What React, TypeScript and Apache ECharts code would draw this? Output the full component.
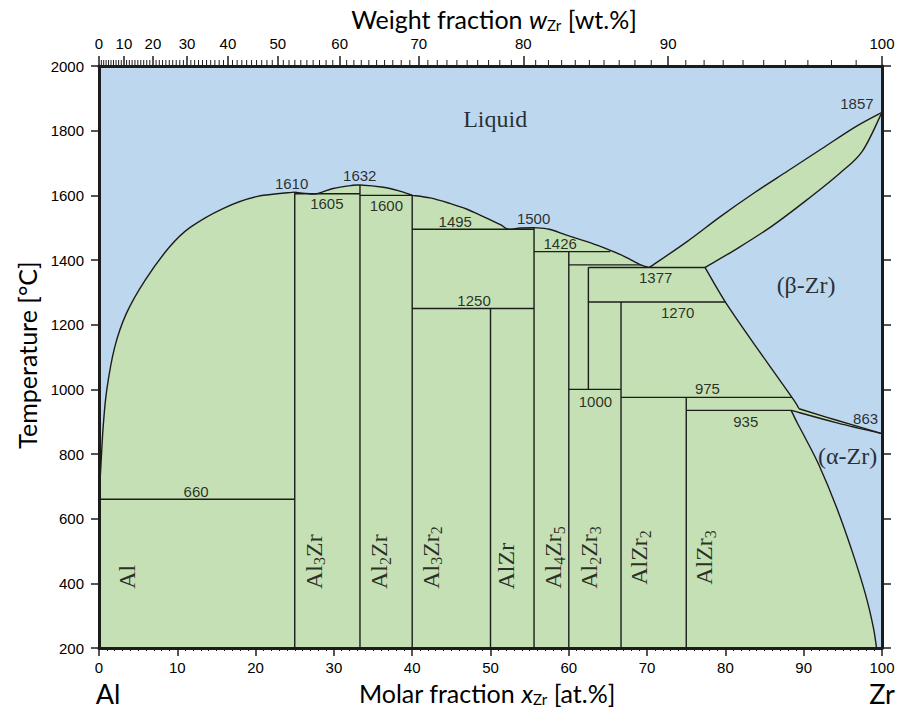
import { useEffect, useRef } from "react";
import * as echarts from "echarts";

const BLUE = "#BDD7EE";
const GREEN = "#C5E0B4";
const INK = "#1c1c1c";
const SANS = "'Liberation Sans', Arial, sans-serif";
const SERIF = "'Liberation Serif', 'Times New Roman', serif";
const TITLE = "Lato, 'Open Sans', sans-serif";

// Molar masses used for the weight-fraction scale on the top axis
const M_AL = 26.9815;
const M_ZR = 91.224;

// Tick labels of the weight-fraction axis [wt.%]
const weightLabels = [0, 10, 20, 30, 40, 50, 60, 70, 80, 90, 100];

// Liquidus, Al side: x [at.% Zr], T [°C]
const liquidusAl = [
  [0, 660], [0.1, 705], [0.2, 745], [0.3, 790], [0.55, 890], [1.0, 1000],
  [2.0, 1130], [3.5, 1235], [5.9, 1338], [9.0, 1440], [11.6, 1500],
  [15.9, 1560], [20.1, 1596], [25, 1610],
];
// Liquidus between Al3Zr and Al3Zr2
const liquidusMid = [
  [25, 1610], [26.5, 1606], [27.8, 1605], [29.9, 1621], [32.1, 1630],
  [33.33, 1632], [36.3, 1625], [38.4, 1613], [40, 1600],
];
// Liquidus between Al3Zr2 and Al4Zr5
const liquidusHigh = [
  [40, 1600], [42.3, 1592], [44.8, 1575], [47.0, 1557], [49.1, 1534],
  [51.2, 1510], [52.3, 1495], [53.8, 1499], [55.56, 1500],
];
// Liquidus down to the eutectic at 1377 °C
const liquidusZr = [
  [55.56, 1500], [57.5, 1495], [59.7, 1477], [61.9, 1460], [63.6, 1446],
  [65.3, 1430], [67.2, 1410], [69.2, 1385], [70.3, 1377],
];
// Liquidus and solidus of (β-Zr)
const betaLiquidus = [
  [70.3, 1377], [75.1, 1457], [79.4, 1535], [83.7, 1608],
  [88.0, 1676], [92.3, 1744], [96.6, 1812], [100, 1857],
];
const betaSolidus = [
  [77.4, 1377], [81.6, 1437], [85.9, 1504], [90.2, 1582],
  [94.5, 1666], [97.5, 1737], [100, 1857],
];
// Solvus of (β-Zr)
const betaSolvus = [
  [77.4, 1377], [80, 1270], [84.2, 1122], [88.5, 975], [89.4, 940],
];
// (α-Zr) + (β-Zr) transus lines
const betaTransus = [[89.4, 940], [94, 906], [100, 863]];
const alphaTransus = [[88.4, 935], [94, 898], [100, 863]];
// Solvus of (α-Zr)
const alphaSolvus = [
  [88.4, 935], [89.2, 895], [90.3, 845], [92.0, 763], [94.1, 641],
  [96.2, 498], [97.9, 365], [98.9, 263], [99.3, 200],
];

// Invariant lines: T [°C], from x, to x [at.% Zr]
const isotherms = [
  [660, 0, 25],
  [1605, 25, 33.33],
  [1600, 33.33, 40],
  [1495, 40, 55.56],
  [1250, 40, 55.56],
  [1426, 55.56, 65.3],
  [1385, 60, 69.2],
  [1377, 62.5, 77.4],
  [1270, 62.5, 80],
  [1000, 60, 66.67],
  [975, 66.67, 88.5],
  [935, 75, 88.4],
];

// Intermetallic compounds: x [at.% Zr], lowest T, highest T
const compounds = [
  [25, 200, 1610],
  [33.33, 200, 1632],
  [40, 200, 1600],
  [50, 200, 1250],
  [55.56, 200, 1500],
  [60, 200, 1426],
  [62.5, 1000, 1377],
  [66.67, 200, 1270],
  [75, 200, 975],
];

// Temperature annotations: value [°C], x along the line, vertical nudge [px]
const tempNotes = [
  [1857, 96.8, -9],
  [1610, 24.6, -9],
  [1632, 33.3, -9],
  [1605, 29.1, 10],
  [1600, 36.7, 10],
  [1495, 45.5, -8],
  [1500, 55.5, -9],
  [1426, 58.9, -8],
  [1377, 71.1, 10],
  [1270, 73.9, 10],
  [1250, 47.9, -8],
  [1000, 63.4, 12],
  [975, 77.7, -9],
  [935, 82.6, 11],
  [863, 97.9, -15],
  [660, 12.4, -8],
];

// Phase-field names (rotated): text, x, T
const phaseNames = [
  ["Al", 3.6, 420],
  ["Al{s|3}Zr", 27.4, 467],
  ["Al{s|2}Zr", 35.8, 467],
  ["Al{s|3}Zr{s|2}", 42.4, 480],
  ["AlZr", 52.0, 453],
  ["Al{s|4}Zr{s|5}", 58.0, 480],
  ["Al{s|2}Zr{s|3}", 62.6, 480],
  ["AlZr{s|2}", 69.0, 480],
  ["AlZr{s|3}", 77.3, 480],
];

// Single-phase regions: text, x, T
const regionNames = [
  ["Liquid", 50.6, 1836],
  ["(β-Zr)", 90.3, 1323],
  ["(α-Zr)", 95.6, 794],
];

const toAtomic = (w: number) =>
  ((w / M_ZR) / (w / M_ZR + (100 - w) / M_AL)) * 100;
const toWeight = (x: number) =>
  ((x * M_ZR) / (x * M_ZR + (100 - x) * M_AL)) * 100;

const weightMajorAt = weightLabels.map(toAtomic);
const weightMinorAt: number[] = [];
for (let w = 1; w < 100; w++) if (w % 10 !== 0) weightMinorAt.push(toAtomic(w));

const segments = [
  ...isotherms.map(([t, x0, x1]) => [x0, t, x1, t]),
  ...compounds.map(([x, t0, t1]) => [x, t0, x, t1]),
];

const curves = [
  liquidusAl, liquidusMid, liquidusHigh, liquidusZr,
  betaLiquidus, betaSolidus, betaSolvus, betaTransus, alphaTransus, alphaSolvus,
];

// Boundary of the two-phase fields, as [curve, reversed?]
const outlineParts: [number[][], boolean][] = [
  [liquidusAl, false],
  [liquidusMid, false],
  [liquidusHigh, false],
  [liquidusZr, false],
  [betaLiquidus, false],
  [betaSolidus, true],
  [betaSolvus, false],
  [betaTransus, false],
  [alphaTransus, true],
  [alphaSolvus, false],
];

const f = (n: number) => n.toFixed(2);

// Catmull-Rom curve through pixel points, as SVG path commands
function smoothPath(pts: number[][], first: "M" | "L") {
  let d = `${first}${f(pts[0][0])},${f(pts[0][1])}`;
  for (let i = 0; i < pts.length - 1; i++) {
    const p0 = pts[i - 1] || pts[i];
    const p1 = pts[i];
    const p2 = pts[i + 1];
    const p3 = pts[i + 2] || p2;
    const c1x = p1[0] + (p2[0] - p0[0]) / 6;
    const c1y = p1[1] + (p2[1] - p0[1]) / 6;
    const c2x = p2[0] - (p3[0] - p1[0]) / 6;
    const c2y = p2[1] - (p3[1] - p1[1]) / 6;
    d += ` C${f(c1x)},${f(c1y)} ${f(c2x)},${f(c2y)} ${f(p2[0])},${f(p2[1])}`;
  }
  return d;
}

export default function App() {
  const ref = useRef<HTMLDivElement>(null);

  useEffect(() => {
    if (!ref.current) return;
    const chart = echarts.init(ref.current, null, { renderer: "svg" });

    const axisLine = { onZero: false, lineStyle: { color: INK, width: 3 } };
    const tickStyle = { color: INK, width: 1.5 };
    const labelStyle = { color: "#000", fontFamily: SANS, fontSize: 15 };
    const titleRich = {
      n: { fontFamily: TITLE, fontSize: 25, lineHeight: 26, fill: "#000" },
      i: { fontFamily: TITLE, fontSize: 25, lineHeight: 26, fontStyle: "italic", fill: "#000" },
      s: { fontFamily: TITLE, fontSize: 15, lineHeight: 14, fill: "#000", verticalAlign: "bottom" },
    };

    const option: any = {
      animation: false,
      grid: {
        left: 99, right: 16, top: 66, bottom: 62,
        show: true, backgroundColor: BLUE, borderWidth: 0,
      },
      xAxis: [
        {
          type: "value", position: "bottom", min: 0, max: 100, interval: 10, z: 10,
          axisLine,
          axisTick: { length: 8, lineStyle: tickStyle },
          minorTick: { show: true, splitNumber: 10, length: 3, lineStyle: { color: INK, width: 1 } },
          axisLabel: { ...labelStyle, margin: 12 },
          splitLine: { show: false },
          minorSplitLine: { show: false },
        },
        {
          type: "value", position: "top", min: 0, max: 100, z: 10,
          axisLine,
          axisTick: { customValues: weightMajorAt, length: 10, lineStyle: tickStyle },
          axisLabel: {
            ...labelStyle, margin: 15, customValues: weightMajorAt,
            formatter: (v: number) => String(Math.round(toWeight(v))),
          },
          splitLine: { show: false },
        },
      ],
      yAxis: [
        {
          type: "value", position: "left", min: 200, max: 2000, interval: 200, z: 10,
          axisLine,
          axisTick: { length: 8, lineStyle: tickStyle },
          axisLabel: { ...labelStyle, margin: 15, formatter: (v: number) => String(v) },
          splitLine: { show: false },
        },
        {
          type: "value", position: "right", min: 200, max: 2000, interval: 200, z: 10,
          axisLine,
          axisTick: { length: 9, lineStyle: tickStyle },
          axisLabel: { show: false },
          splitLine: { show: false },
        },
      ],
      series: [
        {
          type: "custom", name: "two-phase fields", z: 1, silent: true,
          data: [[0, 200]],
          renderItem: (_p: any, api: any) => {
            const px = (pts: number[][]) => pts.map((p) => api.coord(p));
            const start = api.coord([0, 200]);
            let d = `M${f(start[0])},${f(start[1])}`;
            outlineParts.forEach(([c, rev]) => {
              const pts = px(rev ? [...c].reverse() : c);
              d += " " + smoothPath(pts, "L");
            });
            d += " Z";
            return {
              type: "path",
              shape: { pathData: d },
              style: { fill: GREEN, stroke: "none" },
            };
          },
        },
        {
          type: "custom", name: "phase boundaries", z: 3, silent: true,
          data: curves.map((c) => c[0]),
          renderItem: (params: any, api: any) => {
            const pts = curves[params.dataIndex].map((p) => api.coord(p));
            return {
              type: "path",
              shape: { pathData: smoothPath(pts, "M") },
              style: { fill: "none", stroke: INK, lineWidth: 1.4 },
            };
          },
        },
        {
          type: "custom", name: "invariants", z: 3, silent: true,
          data: segments,
          encode: { x: [0, 2], y: [1, 3] },
          renderItem: (_p: any, api: any) => {
            const a = api.coord([api.value(0), api.value(1)]);
            const b = api.coord([api.value(2), api.value(3)]);
            return {
              type: "line",
              shape: { x1: a[0], y1: a[1], x2: b[0], y2: b[1] },
              style: { stroke: INK, lineWidth: 1.4 },
            };
          },
        },
        {
          type: "custom", name: "wt ticks", z: 10, silent: true, clip: false,
          data: weightMinorAt.map((x) => [x, 2000]),
          renderItem: (_p: any, api: any) => {
            const p = api.coord([api.value(0), api.value(1)]);
            return {
              type: "line",
              shape: { x1: p[0], y1: p[1], x2: p[0], y2: p[1] - 6 },
              style: { stroke: INK, lineWidth: 1 },
            };
          },
        },
        {
          type: "scatter", z: 5, silent: true, symbolSize: 1,
          itemStyle: { color: "transparent" },
          label: {
            show: true, position: "inside", formatter: "{b}",
            color: "#000", fontFamily: SANS, fontSize: 15,
          },
          data: tempNotes.map(([t, x, dy]) => ({
            name: String(t), value: [x, t], label: { offset: [0, dy] },
          })),
        },
        {
          type: "scatter", z: 5, silent: true, symbolSize: 1,
          itemStyle: { color: "transparent" },
          label: {
            show: true, position: "inside", formatter: "{b}", rotate: 90,
            color: "#000", fontFamily: SERIF, fontSize: 24, lineHeight: 28,
            rich: {
              s: { fontFamily: SERIF, fontSize: 16, color: "#000", verticalAlign: "bottom" },
            },
          },
          data: phaseNames.map(([n, x, t]) => ({ name: n, value: [x, t] })),
        },
        {
          type: "scatter", z: 5, silent: true, symbolSize: 1,
          itemStyle: { color: "transparent" },
          label: {
            show: true, position: "inside", formatter: "{b}",
            color: "#000", fontFamily: SERIF, fontSize: 24,
          },
          data: regionNames.map(([n, x, t]) => ({ name: n, value: [x, t] })),
        },
      ],
      graphic: [
        {
          type: "text", x: 494, y: 19, z: 20,
          style: {
            text: "{n|Weight fraction }{i|w}{s|Zr}{n| [wt.%]}",
            align: "center", verticalAlign: "middle", rich: titleRich,
          },
        },
        {
          type: "text", x: 487, y: 693, z: 20,
          style: {
            text: "{n|Molar fraction }{i|x}{s|Zr}{n| [at.%]}",
            align: "center", verticalAlign: "middle", rich: titleRich,
          },
        },
        {
          type: "text", x: 27, y: 355, rotation: Math.PI / 2, z: 20,
          style: {
            text: "Temperature [°C]", align: "center", verticalAlign: "middle",
            fontFamily: TITLE, fontSize: 25, fill: "#000",
          },
        },
        {
          type: "text", x: 108, y: 693, z: 20,
          style: { text: "Al", align: "center", verticalAlign: "middle", fontFamily: TITLE, fontSize: 27, fill: "#000" },
        },
        {
          type: "text", x: 882, y: 693, z: 20,
          style: { text: "Zr", align: "center", verticalAlign: "middle", fontFamily: TITLE, fontSize: 27, fill: "#000" },
        },
      ],
    };

    chart.setOption(option);
    return () => chart.dispose();
  }, []);

  return (
    <div
      ref={ref}
      style={{ position: "absolute", left: 0, top: 0, width: 898, height: 710, background: "#fff" }}
    />
  );
}
